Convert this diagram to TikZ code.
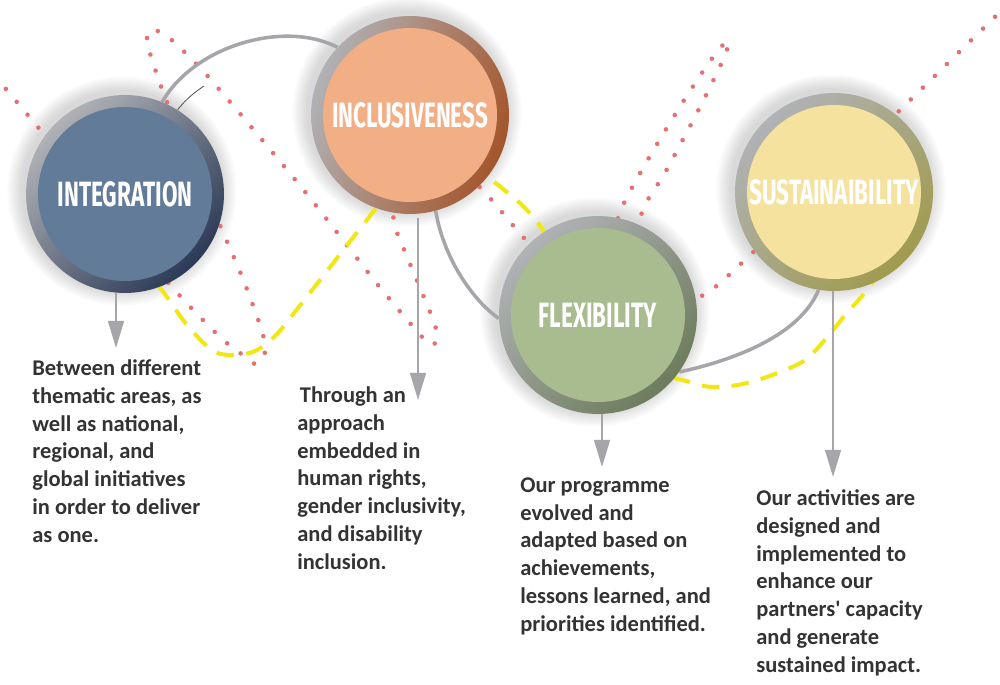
\documentclass[tikz,border=0pt]{standalone}
\usepackage{fontspec}
\setmainfont{Carlito}
\newfontfamily\titlefont[FakeStretch=0.64]{Fira Sans}
\usetikzlibrary{arrows.meta}

\definecolor{dotred}{RGB}{228,112,112}
\definecolor{waveyellow}{RGB}{242,230,20}
\definecolor{linkgray}{RGB}{165,165,170}
\definecolor{ringgray}{RGB}{176,178,182}
\definecolor{bodytext}{RGB}{51,51,51}
\definecolor{integfill}{RGB}{98,123,153}
\definecolor{integring}{RGB}{43,58,87}
\definecolor{inclfill}{RGB}{242,175,133}
\definecolor{inclring}{RGB}{164,85,43}
\definecolor{flexfill}{RGB}{168,188,143}
\definecolor{flexring}{RGB}{109,124,92}
\definecolor{sustfill}{RGB}{245,226,158}
\definecolor{sustring}{RGB}{160,155,79}

\pgfdeclarelayer{glow}
\pgfdeclarelayer{back}
\pgfsetlayers{glow,back,main}

\tikzset{
  orb/.style n args={3}{circle, minimum size=3.96cm, inner sep=0pt,
    top color=ringgray, bottom color=#2, shading angle=#3,
    path picture={\fill[#1] (path picture bounding box.center) circle (1.74cm);},
    text=white, font=\titlefont\bfseries\fontsize{20}{20}\selectfont},
  blurb/.style={anchor=north west, inner sep=0pt, align=left, text=bodytext,
    font=\bfseries\fontsize{12.8}{15.9}\selectfont},
  pointer/.style={linkgray, line width=1.3pt, -{Triangle[length=15.5pt,width=9pt]}},
  link/.style={linkgray, line width=2pt},
  wave/.style={waveyellow, line width=2.3pt, dash pattern=on 10pt off 7pt},
  dots/.style={dotred, line width=2.6pt, line cap=round, dash pattern=on 0pt off 9.6pt},
}

\begin{document}
\begin{tikzpicture}[x=0.02cm, y=-0.02cm]
    \useasboundingbox (0,0) rectangle (1000,685);

    % the four values
    \node[orb={integfill}{integring}{45}] (integ) at (125,194) {INTEGRATION};
    \node[orb={inclfill}{inclring}{70}] (incl) at (410,115) {INCLUSIVENESS};
    \node[orb={flexfill}{flexring}{45}] (flex) at (598,315) {FLEXIBILITY};
    \node[orb={sustfill}{sustring}{45}] (sust) at (834,192) {SUSTAINAIBILITY};

    % soft shadow round the circles
    \begin{pgfonlayer}{glow}
        \foreach \n in {integ,incl,flex,sust} {
            \foreach \k in {1,...,8}
                \fill[black, opacity=0.02] ([shift={(-3,-3)}]\n.center) circle ({1.98cm+\k*1.1pt});
        }
    \end{pgfonlayer}

    \begin{pgfonlayer}{back}
        % red dotted wave
        \draw[dots] plot[smooth, tension=0.5] coordinates {(-5,76) (37,126) (105,207) (172,287)
            (220,337) (247,358) (256,364) (264,356) (265,346) (261,328) (243,279) (222,230)
            (195,166) (167,102) (155,69) (150,53) (147,38) (152,29) (161,33) (175,43) (212,81)
            (302,188) (378,285) (423,338) (431,345) (437,340) (435,325) (428,307) (408,259)
            (395,226) (395,200) (420,160) (455,165) (488,196) (523,237) (560,275) (590,280)
            (610,240) (624,203) (650,156) (686,97) (716,53) (729,41) (722,62) (699,109)
            (666,171) (641,216) (655,260) (680,298) (707,293) (747,258) (822,186) (897,113)
            (1010,2)};

        % yellow dashed wave
        \draw[wave] plot[smooth, tension=0.6] coordinates {(140,262) (167,297) (187,325)
            (212,350) (232,355) (255,351) (276,335) (298,308) (320,280) (363,225) (380,206)
            (420,182) (455,168) (487,178) (508,193) (525,208) (543,230) (575,280) (625,345)
            (660,372) (690,382) (713,387) (747,383) (790,368) (813,353) (847,313) (867,290)
            (880,270)};

        % grey links between the circles
        \draw[link] (integ.68) .. controls (195,45) and (285,20) .. (incl.137);
        \coordinate (hair) at (204,86);
        \draw[gray!70!black, line width=0.5pt] (integ.58) .. controls (186,99) and (195,92) .. (hair);
        \draw[link] (incl.-75) .. controls (443,255) and (470,298) .. (flex.182);
        \draw[link] (flex.-35) .. controls (735,360) and (800,335) .. (sust.-99);
    \end{pgfonlayer}

    % descriptions
    \node[blurb] (txtA) at (32,359) {Between different\\thematic areas, as\\well as national,\\regional, and\\global initiatives\\in order to deliver\\as one.};
    \node[blurb] (txtB) at (297,386) {\hspace*{1.5pt}Through an\\approach\\embedded in\\human rights,\\gender inclusivity,\\and disability\\inclusion.};
    \node[blurb] (txtC) at (520,477) {Our programme\\evolved and\\adapted based on\\achievements,\\lessons learned, and\\priorities identified.};
    \node[blurb] (txtD) at (756,489) {Our activities are\\designed and\\implemented to\\enhance our\\partners\textquotesingle{} capacity\\and generate\\sustained impact.};

    % arrows down to the descriptions
    \coordinate (tipA) at (116,348);
    \coordinate (tipB) at (418,400);
    \coordinate (tipC) at (602,467);
    \coordinate (tipD) at (833,477);
    \draw[pointer] (integ.south -| tipA) -- (tipA);
    \draw[pointer, shorten <=2pt] (incl.south -| tipB) -- (tipB);
    \draw[pointer] (flex.south -| tipC) -- (tipC);
    \draw[pointer] (sust.south -| tipD) -- (tipD);
\end{tikzpicture}
\end{document}
